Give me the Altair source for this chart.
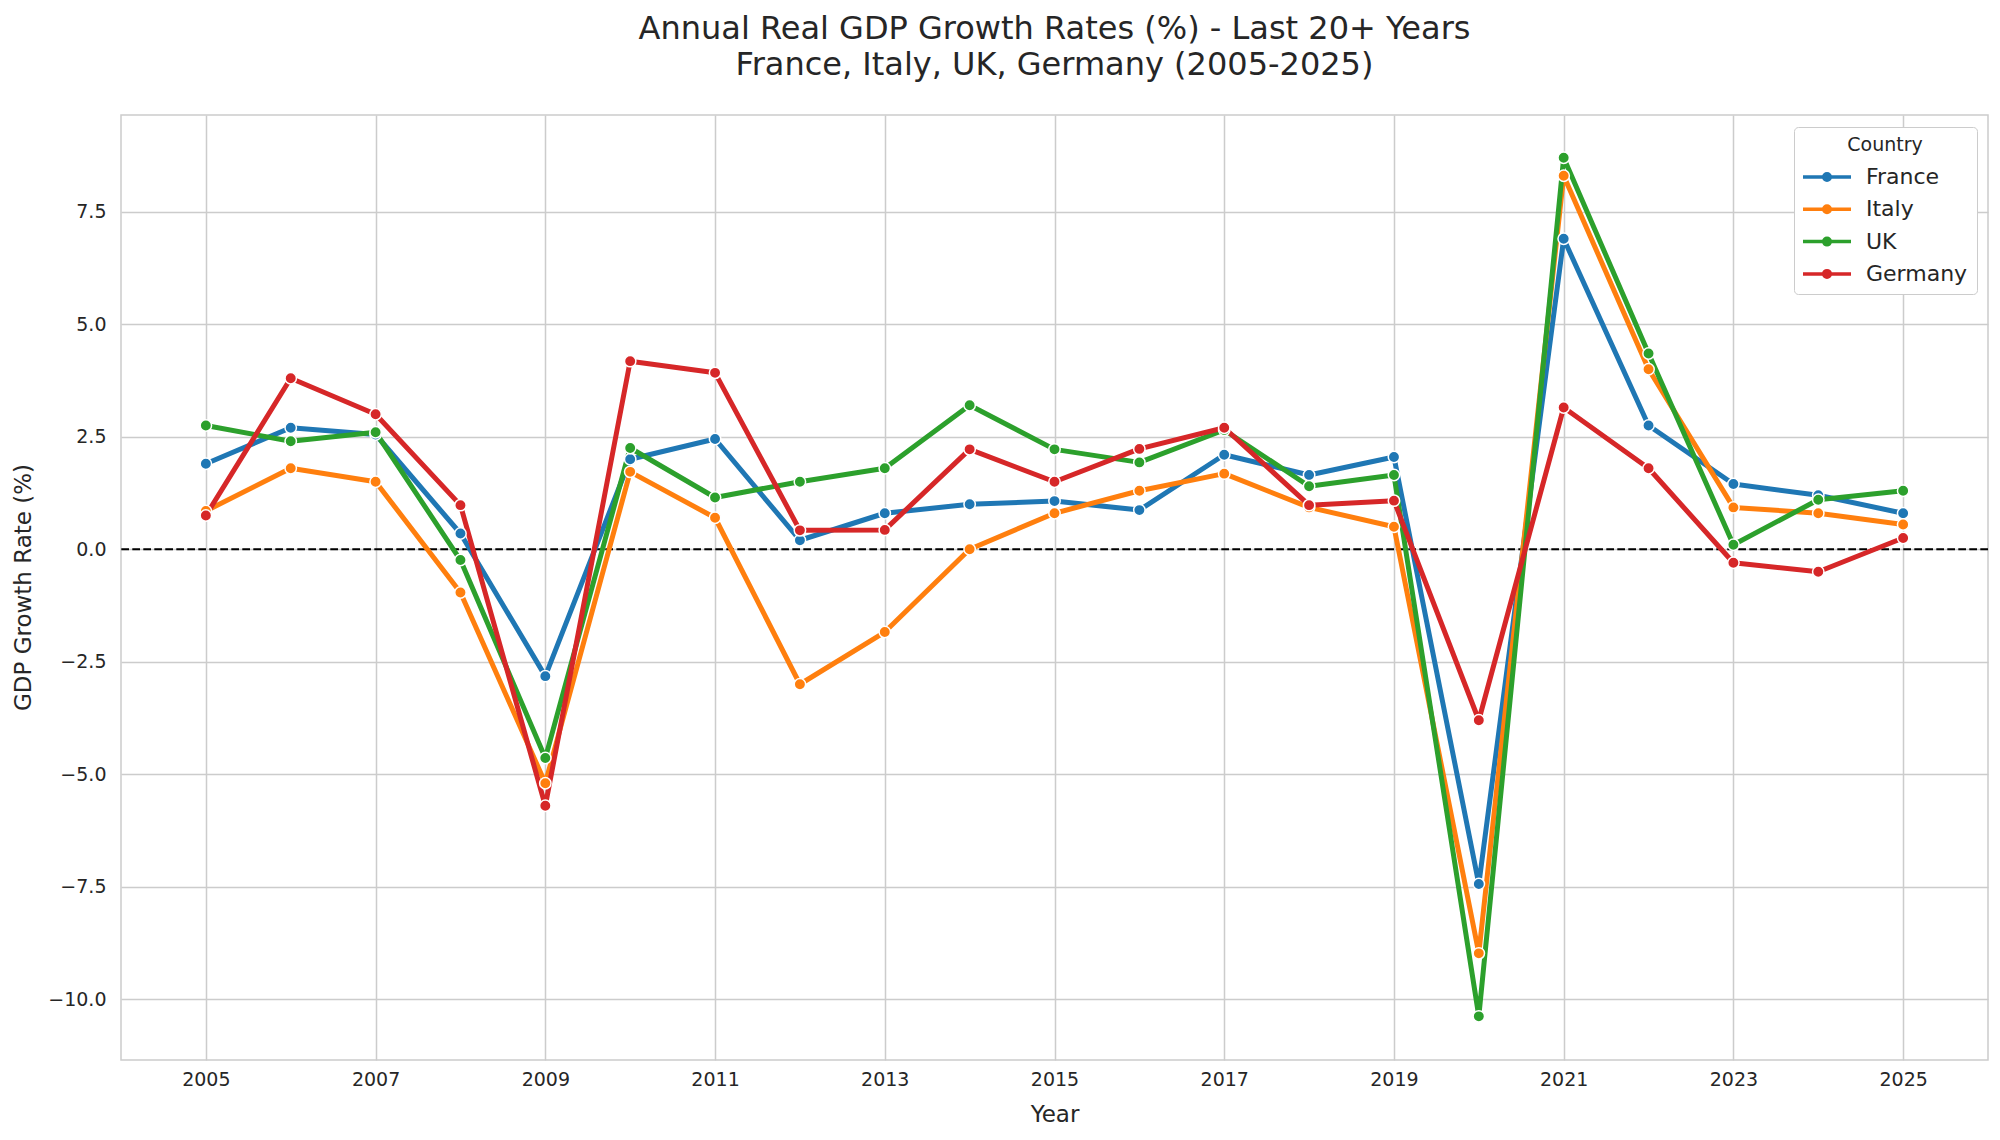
import pandas as pd
import altair as alt

# 年次データ
years = list(range(2005, 2026))
countries = ["France", "Italy", "UK", "Germany"]
colors = ["#1f77b4", "#ff7f0e", "#2ca02c", "#d62728"]

france = [1.9, 2.7, 2.55, 0.35, -2.82, 2.0, 2.45, 0.2, 0.8, 1.0, 1.07,
          0.87, 2.1, 1.65, 2.05, -7.44, 6.9, 2.75, 1.45, 1.2, 0.8]
italy = [0.85, 1.8, 1.5, -0.96, -5.2, 1.72, 0.7, -3.0, -1.84, 0.0, 0.8,
         1.3, 1.68, 0.93, 0.5, -8.98, 8.3, 4.0, 0.93, 0.8, 0.55]
uk = [2.75, 2.4, 2.6, -0.24, -4.64, 2.25, 1.15, 1.5, 1.8, 3.2, 2.22,
      1.93, 2.65, 1.4, 1.65, -10.38, 8.7, 4.35, 0.1, 1.1, 1.3]
germany = [0.75, 3.8, 3.0, 0.98, -5.7, 4.18, 3.92, 0.42, 0.43, 2.22, 1.5,
           2.23, 2.7, 0.98, 1.08, -3.8, 3.15, 1.8, -0.3, -0.5, 0.25]

x_ticks = list(range(2005, 2026, 2))
y_ticks = [-10, -7.5, -5, -2.5, 0, 2.5, 5, 7.5]

series = {"France": france, "Italy": italy, "UK": uk, "Germany": germany}
df = pd.concat(
    [pd.DataFrame({"Year": years, "Country": c, "GDP": v}) for c, v in series.items()],
    ignore_index=True,
)
zero = pd.DataFrame({"y": [0]})

FONT = "DejaVu Sans"
TXT = "#262626"
GRID = "#cccccc"

# 凡例の記号：線＋丸（線描きで丸を塗りつぶしに見せる）
legend_symbol = (
    "M-2,0L2,0"
    "M-0.27,0A0.27,0.27,0,1,0,0.27,0A0.27,0.27,0,1,0,-0.27,0"
    "M-0.1,0A0.1,0.1,0,1,0,0.1,0A0.1,0.1,0,1,0,-0.1,0"
)

x = alt.X(
    "Year:Q",
    scale=alt.Scale(domain=[2004, 2026], nice=False, zero=False),
    axis=alt.Axis(
        title="Year",
        values=x_ticks,
        format="d",
        grid=True,
        gridColor=GRID,
        gridWidth=1.5,
        domain=False,
        ticks=False,
        tickSize=0,
        labelPadding=10,
        labelFontSize=19,
        labelColor=TXT,
        labelFont=FONT,
        titleFontSize=23,
        titleFontWeight="normal",
        titleColor=TXT,
        titleFont=FONT,
        titleY=54,
        titleBaseline="middle",
    ),
)
y = alt.Y(
    "GDP:Q",
    scale=alt.Scale(domain=[-11.35, 9.65], nice=False, zero=False),
    axis=alt.Axis(
        title="GDP Growth Rate (%)",
        values=y_ticks,
        format=".1f",
        grid=True,
        gridColor=GRID,
        gridWidth=1.5,
        domain=False,
        ticks=False,
        tickSize=0,
        labelPadding=15,
        labelFontSize=19,
        labelColor=TXT,
        labelFont=FONT,
        titleFontSize=23,
        titleFontWeight="normal",
        titleColor=TXT,
        titleFont=FONT,
        titleX=-98,
        titleY=472,
        titleBaseline="middle",
        titleAlign="center",
    ),
)

color = alt.Color(
    "Country:N",
    sort=countries,
    scale=alt.Scale(domain=countries, range=colors),
    legend=alt.Legend(
        title="Country",
        orient="none",
        legendX=1673,
        legendY=12,
        symbolType=legend_symbol,
        symbolSize=576,
        symbolStrokeWidth=3.5,
        symbolOffset=10,
        labelOffset=25,
        rowPadding=7.3,
        padding=9,
        titleAnchor="middle",
        titlePadding=8,
        titleFontSize=19,
        titleFontWeight="normal",
        titleColor=TXT,
        titleFont=FONT,
        labelFontSize=22,
        labelColor=TXT,
        labelFont=FONT,
        fillColor="white",
        strokeColor=GRID,
        cornerRadius=4,
    ),
)

lines = (
    alt.Chart(df)
    .mark_line(strokeWidth=5, strokeJoin="round", strokeCap="round")
    .encode(x=x, y=y, color=color, detail="Country:N")
)
points = (
    alt.Chart(df)
    .mark_point(filled=True, size=130, stroke="white", strokeWidth=1.5, opacity=1)
    .encode(
        x="Year:Q",
        y="GDP:Q",
        fill=alt.Fill("Country:N", scale=alt.Scale(domain=countries, range=colors), legend=None),
    )
)
zero_line = (
    alt.Chart(zero)
    .mark_rule(color="black", strokeWidth=2, strokeDash=[7.7, 3.3])
    .encode(y="y:Q")
)

chart = (
    alt.layer(zero_line, lines, points)
    .properties(
        width=1867,
        height=945,
        autosize=alt.AutoSizeParams(type="none"),
        padding={"left": 113, "top": 107, "right": 4, "bottom": 72},
        title=alt.TitleParams(
            text=[
                "Annual Real GDP Growth Rates (%) - Last 20+ Years",
                "France, Italy, UK, Germany (2005-2025)",
            ],
            fontSize=32,
            font=FONT,
            fontWeight="normal",
            color=TXT,
            anchor="middle",
            lineHeight=36,
            offset=33,
        ),
    )
    .configure_view(stroke=GRID, strokeWidth=1.5)
)

chart.save("out.html", embed_options={"renderer": "svg", "actions": False})
